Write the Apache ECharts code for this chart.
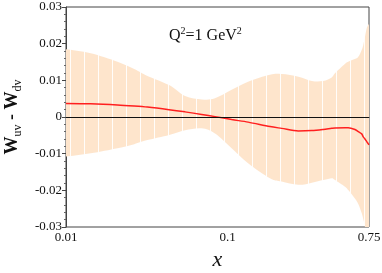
<!DOCTYPE html>
<html><head><meta charset="utf-8">
<script src="https://cdn.jsdelivr.net/npm/echarts@6/dist/echarts.min.js"></script>
<style>html,body{margin:0;padding:0;background:#fff}#c{width:382px;height:273px}</style>
</head><body><div id="c"></div>
<script>
// x values (log scale)
const xs = [0.01, 0.0142, 0.0208, 0.0264, 0.0319, 0.0434, 0.0545, 0.0691, 0.0836, 0.106, 0.134, 0.183, 0.216, 0.274, 0.332, 0.391, 0.441, 0.462, 0.533, 0.558, 0.614, 0.644, 0.676, 0.691, 0.708, 0.726, 0.75];
// upper edge of the error band
const upper = [0.0185, 0.0174, 0.0151, 0.0131, 0.0112, 0.0087, 0.0057, 0.0048, 0.0051, 0.0074, 0.0096, 0.0115, 0.0117, 0.0110, 0.0098, 0.0098, 0.0108, 0.0119, 0.0145, 0.0151, 0.0158, 0.0164, 0.0183, 0.0196, 0.0218, 0.0242, 0.0254];
// lower edge of the error band
const lower = [-0.0108, -0.0099, -0.0085, -0.0074, -0.0063, -0.0049, -0.0036, -0.0031, -0.0045, -0.0085, -0.0126, -0.0167, -0.0176, -0.0185, -0.0179, -0.0172, -0.0167, -0.0172, -0.0190, -0.0199, -0.0222, -0.0237, -0.0262, -0.0278, -0.0299, -0.0340, -0.0400];
// central curve
const central = [0.0037, 0.0036, 0.0033, 0.0030, 0.0027, 0.0020, 0.0014, 0.0007, 0.0001, -0.0007, -0.0014, -0.0026, -0.0031, -0.0038, -0.0037, -0.0034, -0.0031, -0.0030, -0.0029, -0.0029, -0.0034, -0.0040, -0.0046, -0.0054, -0.0060, -0.0067, -0.0076];
// axis ticks / labels
const xLabelValues = [0.01, 0.1, 0.75];
const xLabelTexts = ['0.01', '0.1', '0.75'];
const xTickValues = [0.01, 0.02, 0.03, 0.04, 0.05, 0.06, 0.07, 0.08, 0.09, 0.1, 0.2, 0.3, 0.4, 0.5, 0.6, 0.7];
const yMin = -0.03, yMax = 0.03, yStep = 0.01;

const pc = document.createElement('canvas');
pc.width = 14; pc.height = 4;
const g = pc.getContext('2d');
g.fillStyle = '#fee5cc'; g.fillRect(0, 0, 14, 4);
g.fillStyle = 'rgba(255,255,255,0.9)'; g.fillRect(0, 0, 1, 4);

function smoothSeg(pts) {
  // Catmull-Rom -> cubic bezier segments on screen points
  let d = '';
  const n = pts.length;
  for (let i = 0; i < n - 1; i++) {
    const p0 = pts[Math.max(i - 1, 0)], p1 = pts[i], p2 = pts[i + 1], p3 = pts[Math.min(i + 2, n - 1)];
    const c1 = [p1[0] + (p2[0] - p0[0]) / 6, p1[1] + (p2[1] - p0[1]) / 6];
    const c2 = [p2[0] - (p3[0] - p1[0]) / 6, p2[1] - (p3[1] - p1[1]) / 6];
    d += ' C' + c1[0] + ' ' + c1[1] + ' ' + c2[0] + ' ' + c2[1] + ' ' + p2[0] + ' ' + p2[1];
  }
  return d;
}

const serif = 'Liberation Serif';
const chart = echarts.init(document.getElementById('c'), null, {renderer: 'canvas'});
chart.setOption({
  animation: false,
  backgroundColor: '#fff',
  title: {
    text: '{a|Q}{s|2}{a|=1 GeV}{s|2}',
    left: 164, top: 21,
    textStyle: {
      fontWeight: 'normal',
      rich: {
        a: {fontFamily: serif, fontSize: 16, fontWeight: 'normal', color: '#111', lineHeight: 18, verticalAlign: 'bottom'},
        s: {fontFamily: serif, fontSize: 10, fontWeight: 'normal', color: '#111', lineHeight: 18, verticalAlign: 'top'}
      }
    }
  },
  grid: {left: 66, right: 13, top: 7, bottom: 46, outerBoundsMode: 'none', containLabel: false, show: true, borderColor: '#444', borderWidth: 1, backgroundColor: 'transparent'},
  xAxis: {
    type: 'log', logBase: 10, min: 0.01, max: 0.75,
    axisLine: {show: true, lineStyle: {color: '#444', width: 1}},
    axisTick: {show: true, length: 3, customValues: xTickValues, lineStyle: {color: '#444'}},
    minorTick: {show: false},
    splitLine: {show: false},
    axisLabel: {
      customValues: xLabelValues,
      formatter: v => { const i = xLabelValues.findIndex(t => Math.abs(t - v) < 1e-6); return i >= 0 ? xLabelTexts[i] : ''; },
      fontFamily: serif, fontSize: 13, color: '#111', margin: 4, showMaxLabel: true, showMinLabel: true
    },
    name: 'x', nameLocation: 'middle', nameGap: 17,
    nameTextStyle: {fontFamily: serif, fontStyle: 'italic', fontSize: 22, color: '#111'}
  },
  yAxis: {
    type: 'value', min: yMin, max: yMax, interval: yStep,
    axisLine: {show: true, lineStyle: {color: '#444', width: 1}},
    axisTick: {show: true, length: 4, lineStyle: {color: '#444'}},
    minorTick: {show: true, splitNumber: 5, length: 2, lineStyle: {color: '#666'}},
    splitLine: {show: false},
    minorSplitLine: {show: false},
    axisLabel: {
      formatter: v => Math.abs(v) < 1e-9 ? '0' : v.toFixed(2),
      fontFamily: serif, fontSize: 13, color: '#111', margin: 4
    },
    name: '{w|W}{s|uv}{w| - W}{s|dv}', nameLocation: 'middle', nameGap: 39,
    nameTextStyle: {
      rich: {
        w: {fontFamily: serif, fontSize: 18, fontWeight: 'bold', color: '#111', lineHeight: 21, verticalAlign: 'top'},
        s: {fontFamily: serif, fontSize: 12, color: '#111', lineHeight: 21, verticalAlign: 'bottom'}
      }
    }
  },
  series: [
    {
      type: 'custom', name: 'band', coordinateSystem: 'cartesian2d', clip: true, silent: true, z: 1,
      data: [[xs[0], lower[0]]],
      renderItem: (params, api) => {
        const top = xs.map((x, i) => api.coord([x, upper[i]]));
        const bot = xs.map((x, i) => api.coord([x, lower[i]])).reverse();
        const d = 'M' + top[0][0] + ' ' + top[0][1] + smoothSeg(top) +
          ' L' + bot[0][0] + ' ' + bot[0][1] + smoothSeg(bot) + ' Z';
        return {type: 'path', shape: {pathData: d}, style: {fill: {image: pc, repeat: 'repeat'}, stroke: null}};
      }
    },
    {
      type: 'line', name: 'central', smooth: 0.3,
      data: xs.map((x, i) => [x, central[i]]),
      showSymbol: false, silent: true,
      lineStyle: {color: '#ff1f1f', width: 1.5}, z: 4,
      markLine: {
        silent: true, symbol: 'none', label: {show: false},
        lineStyle: {color: '#111', width: 1.2, type: 'solid'},
        data: [{yAxis: 0}]
      }
    }
  ]
});
</script></body></html>
